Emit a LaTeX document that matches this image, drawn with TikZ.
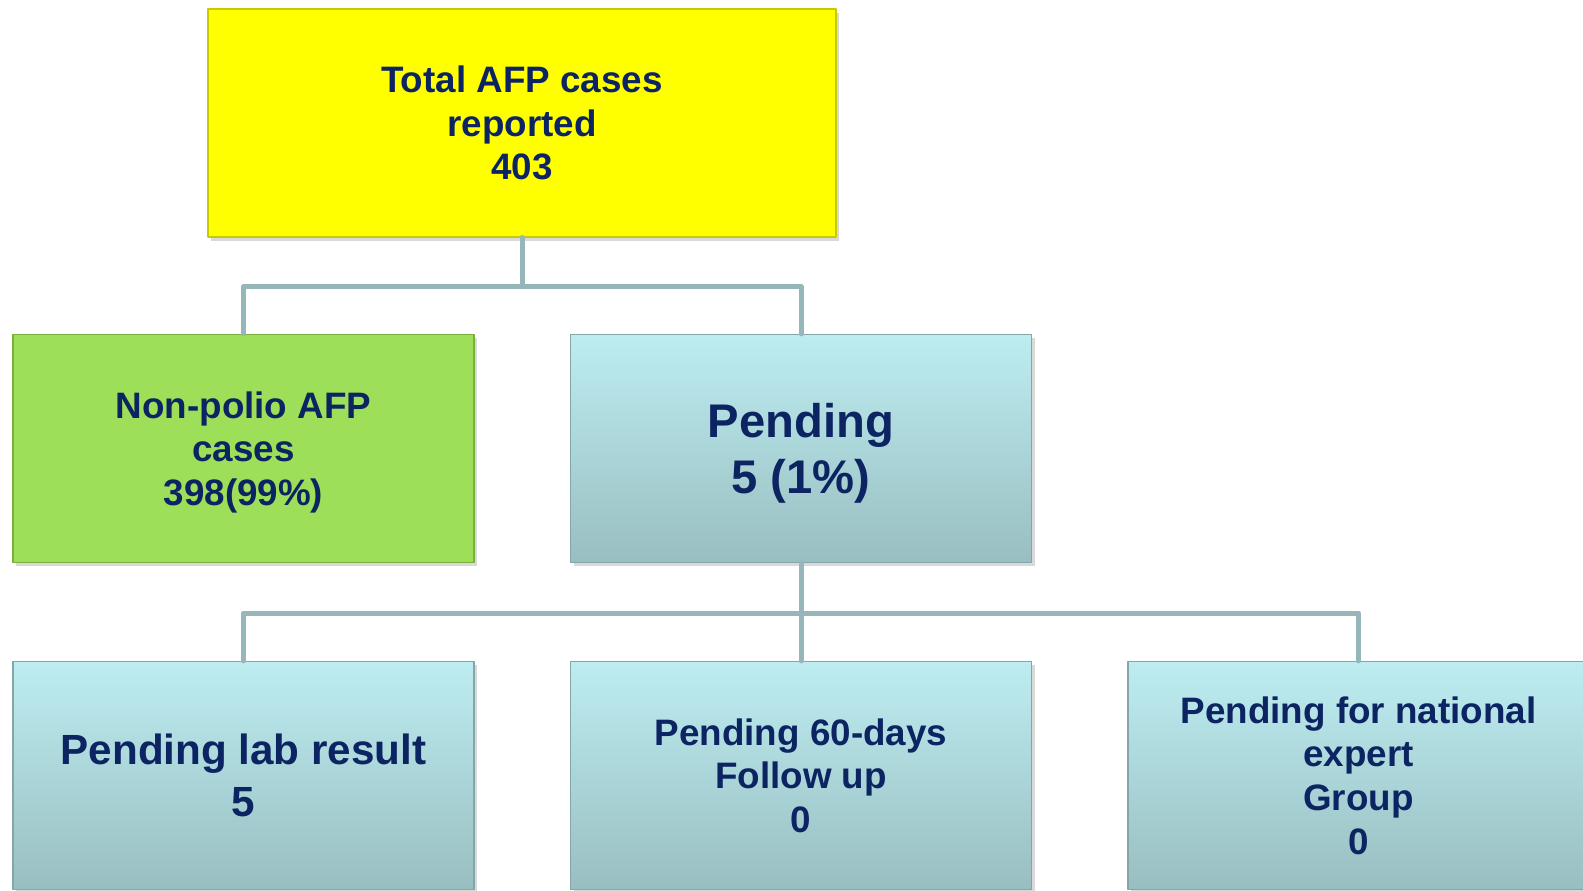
\documentclass[tikz,border=0pt]{standalone}
\usepackage{fontspec}
\setmainfont{Liberation Sans}
\usepackage{xcolor}
\usetikzlibrary{positioning,calc,shadows}

\definecolor{navytext}{HTML}{0C2461}
\definecolor{linkgray}{HTML}{97B6BA}
\definecolor{pendtop}{HTML}{BDEDF1}
\definecolor{pendbot}{HTML}{99BEC1}
\definecolor{pendedge}{HTML}{84A6A9}
\definecolor{afpgreen}{HTML}{9DDF58}
\definecolor{greenedge}{HTML}{7BAF3C}
\definecolor{afpyellow}{HTML}{FFFF00}
\definecolor{yellowedge}{HTML}{C9C900}

\begin{document}
\begin{tikzpicture}[x=0.5pt,y=0.5pt, line cap=round, line join=round, font=\bfseries]
	% ===== khung hình =====
	\useasboundingbox (0,0) rectangle (1583,890);

	% ===== style hộp =====
	\tikzset{
		box/.style={minimum width=230.5pt, minimum height=114pt, align=center,
			text=navytext, line width=0.6pt,
			drop shadow={shadow xshift=1.6pt, shadow yshift=-1.8pt, opacity=0.3}},
		pendbox/.style={box, draw=pendedge, top color=pendtop, bottom color=pendbot},
		txt/.style={font=\bfseries\fontsize{18.4}{21.8}\selectfont},
		conn/.style={draw=linkgray, line width=2.5pt}
	}

	% ===== hàng trên =====
	\node[box, draw=yellowedge, fill=afpyellow, minimum width=314pt, txt] (total) at (522,767)
		{Total AFP cases\\reported\\403};

	% ===== hàng giữa =====
	\node[box, draw=greenedge, fill=afpgreen, txt, text depth=0pt] (nonpolio) at (243.5,441.5)
		{Non-polio AFP\\cases\\398(99\%)};
	\node[pendbox, font=\bfseries\fontsize{23.6}{27.8}\selectfont, text depth=0pt] (pending) at (801,441.5)
		{Pending\\5 (1\%)};

	% ===== hàng dưới =====
	\node[pendbox, font=\bfseries\fontsize{21.1}{26}\selectfont] (lab) at (243.5,114.5)
		{Pending lab result\\5};
	\node[pendbox, txt] (days) at (801,114.5)
		{Pending 60-days\\Follow up\\0};
	\node[pendbox, txt] (expert) at (1358.5,114.5)
		{Pending for national\\expert\\Group\\0};

	% ===== đường nối =====
	\draw[conn] (total.south) -- ++(0,-49) -| (nonpolio.north);
	\draw[conn] (total.south) -- ++(0,-49) -| (pending.north);
	\draw[conn] (pending.south) -- ++(0,-50) -| (lab.north);
	\draw[conn] (pending.south) -- (days.north);
	\draw[conn] (pending.south) -- ++(0,-50) -| (expert.north);
\end{tikzpicture}
\end{document}
